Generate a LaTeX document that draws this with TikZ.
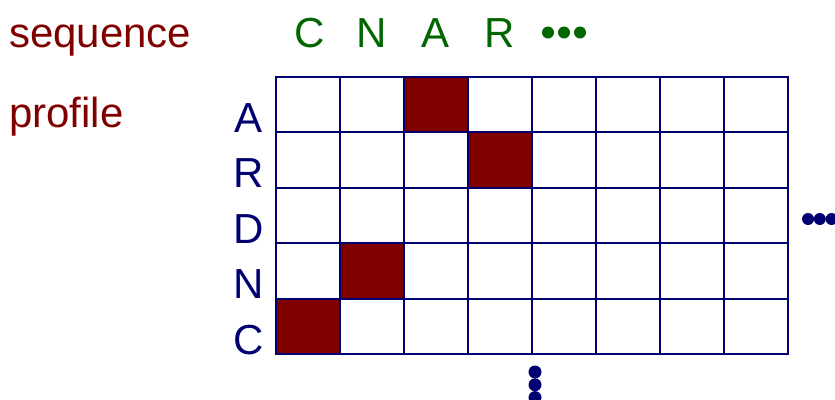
\documentclass[tikz,border=0pt]{standalone}
\usepackage{fontspec}
\setmainfont{Liberation Sans}
\definecolor{maroon}{HTML}{800000}
\definecolor{navyc}{HTML}{000070}
\definecolor{greenc}{HTML}{006600}
\begin{document}
\begin{tikzpicture}[x=1pt,y=-1pt,
  lbl/.style={inner sep=0pt,font=\fontsize{42}{48}\selectfont},
  cellbox/.style={draw=navyc,line width=2pt},
  hitbox/.style={fill=maroon},
  dotn/.style={fill=navyc},
  dotg/.style={fill=greenc}]
\useasboundingbox (0,0) rectangle (835,399);
\fill[white] (0,0) rectangle (835,399);
% titles
\node[lbl,text=maroon,anchor=base west] (seq) at (9,47) {sequence};
\node[lbl,text=maroon,anchor=base west] (prof) at (9,127) {profile};
% sequence letters
\foreach \c/\t in {1/C,2/N,3/A,4/R}{
  \node[lbl,text=greenc,anchor=base] (s\c) at ({276+64*\c-32+(\c==1?2:0)},47) {\t};
}
\foreach \i in {0,1,2}{\fill[dotg] ({548+16*\i},32.5) circle (6);}
% filled cells
\fill[hitbox] (404,77) rectangle (468,132.4);
\fill[hitbox] (468,132.4) rectangle (532,187.8);
\fill[hitbox] (340,243.2) rectangle (404,298.6);
\fill[hitbox] (276,298.6) rectangle (340,354);
% grid
\foreach \r in {0,...,4}{
  \foreach \c in {0,...,7}{
    \draw[cellbox] ({276+64*\c},{77+55.4*\r}) rectangle ++(64,55.4);
  }
}
% row labels
\foreach \r/\t in {0/A,1/R,2/D,3/N,4/C}{
  \node[lbl,text=navyc,anchor=base] (p\r) at (249,{77+55.4*(\r+1)}) {\t};
}
% ellipsis dots
\foreach \i in {0,1,2}{\fill[dotn] (535,{372+12.8*\i}) circle (6.5);}
\foreach \i in {0,1,2}{\fill[dotn] ({808+11.8*\i},219) circle (6);}
\end{tikzpicture}
\end{document}
